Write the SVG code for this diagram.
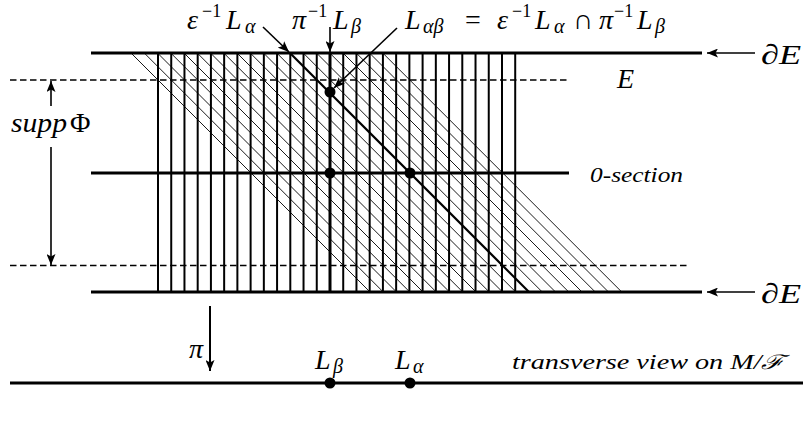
<svg xmlns="http://www.w3.org/2000/svg" width="803" height="421" viewBox="0 0 803 421">
<style>
  .m { font-size: 28px; font-style: italic; }
  .s { font-size: 18px; font-style: normal; }
  .si { font-size: 20px; font-style: italic; }
  .up { font-style: normal; }
  .solid { stroke: #000; stroke-width: 3; fill: none; }
  .vert { stroke: #000; stroke-width: 2; }
  .diag { stroke: #000; stroke-width: 0.9; }
  .dash { stroke: #000; stroke-width: 1.5; stroke-dasharray: 6.5 3.5; fill: none; }
  .arr { stroke: #000; stroke-width: 1.6; fill: none; marker-end: url(#ah); }
  .dot { fill: #000; }
  .lbl { font-size: 20px; font-style: italic; }
</style>
<defs>
  <marker id="ah" markerUnits="userSpaceOnUse" markerWidth="12" markerHeight="9" refX="11" refY="4.5" orient="auto">
    <path d="M0,0 L11,4.5 L0,9 L2.5,4.5 z" fill="#000"/>
  </marker>
</defs>
<rect width="803" height="421" fill="#fff"/>

<g id="hatch-diagonals">
  <line class="diag" x1="131" y1="53" x2="370" y2="292"/>
  <line class="diag" x1="144.25" y1="53" x2="383.25" y2="292"/>
  <line class="diag" x1="157.5" y1="53" x2="396.5" y2="292"/>
  <line class="diag" x1="170.75" y1="53" x2="409.75" y2="292"/>
  <line class="diag" x1="184" y1="53" x2="423" y2="292"/>
  <line class="diag" x1="197.25" y1="53" x2="436.25" y2="292"/>
  <line class="diag" x1="210.5" y1="53" x2="449.5" y2="292"/>
  <line class="diag" x1="223.75" y1="53" x2="462.75" y2="292"/>
  <line class="diag" x1="237" y1="53" x2="476" y2="292"/>
  <line class="diag" x1="250.25" y1="53" x2="489.25" y2="292"/>
  <line class="diag" x1="263.5" y1="53" x2="502.5" y2="292"/>
  <line class="diag" x1="276.75" y1="53" x2="515.75" y2="292"/>
  <line class="diag" x1="303.25" y1="53" x2="542.25" y2="292"/>
  <line class="diag" x1="316.5" y1="53" x2="555.5" y2="292"/>
  <line class="diag" x1="329.75" y1="53" x2="568.75" y2="292"/>
  <line class="diag" x1="343" y1="53" x2="582" y2="292"/>
  <line class="diag" x1="356.25" y1="53" x2="595.25" y2="292"/>
  <line class="diag" x1="369.5" y1="53" x2="608.5" y2="292"/>
  <line class="diag" x1="382.75" y1="53" x2="621.75" y2="292"/>
</g>

<g id="hatch-verticals">
  <line class="vert" x1="158" y1="53" x2="158" y2="292"/>
  <line class="vert" x1="171.23" y1="53" x2="171.23" y2="292"/>
  <line class="vert" x1="184.46" y1="53" x2="184.46" y2="292"/>
  <line class="vert" x1="197.69" y1="53" x2="197.69" y2="292"/>
  <line class="vert" x1="210.92" y1="53" x2="210.92" y2="292"/>
  <line class="vert" x1="224.15" y1="53" x2="224.15" y2="292"/>
  <line class="vert" x1="237.38" y1="53" x2="237.38" y2="292"/>
  <line class="vert" x1="250.61" y1="53" x2="250.61" y2="292"/>
  <line class="vert" x1="263.84" y1="53" x2="263.84" y2="292"/>
  <line class="vert" x1="277.07" y1="53" x2="277.07" y2="292"/>
  <line class="vert" x1="290.3" y1="53" x2="290.3" y2="292"/>
  <line class="vert" x1="303.53" y1="53" x2="303.53" y2="292"/>
  <line class="vert" x1="316.76" y1="53" x2="316.76" y2="292"/>
  <line class="vert" x1="343.22" y1="53" x2="343.22" y2="292"/>
  <line class="vert" x1="356.45" y1="53" x2="356.45" y2="292"/>
  <line class="vert" x1="369.68" y1="53" x2="369.68" y2="292"/>
  <line class="vert" x1="382.91" y1="53" x2="382.91" y2="292"/>
  <line class="vert" x1="396.14" y1="53" x2="396.14" y2="292"/>
  <line class="vert" x1="409.37" y1="53" x2="409.37" y2="292"/>
  <line class="vert" x1="422.6" y1="53" x2="422.6" y2="292"/>
  <line class="vert" x1="435.83" y1="53" x2="435.83" y2="292"/>
  <line class="vert" x1="449.06" y1="53" x2="449.06" y2="292"/>
  <line class="vert" x1="462.29" y1="53" x2="462.29" y2="292"/>
  <line class="vert" x1="475.52" y1="53" x2="475.52" y2="292"/>
  <line class="vert" x1="488.75" y1="53" x2="488.75" y2="292"/>
  <line class="vert" x1="501.98" y1="53" x2="501.98" y2="292"/>
  <line class="vert" x1="515.21" y1="53" x2="515.21" y2="292"/>
</g>

<g id="fiber-pi-inv-Lbeta">
  <line x1="330" y1="53" x2="330" y2="292" stroke="#000" stroke-width="3"/>
</g>
<g id="leaf-eps-inv-Lalpha">
  <line x1="290" y1="53" x2="529" y2="292" stroke="#000" stroke-width="2.2"/>
</g>

<g id="support-bounds">
  <line class="dash" x1="10" y1="80" x2="567" y2="80"/>
  <line class="dash" x1="10" y1="265.5" x2="687" y2="265.5"/>
</g>

<g id="boundary-top">
  <line class="solid" x1="91" y1="53" x2="702" y2="53"/>
</g>
<g id="zero-section">
  <line class="solid" x1="91" y1="173" x2="569" y2="173"/>
  <text class="lbl" font-family="'Liberation Serif', 'Times New Roman', 'DejaVu Serif', serif" x="590" y="182" textLength="93" lengthAdjust="spacingAndGlyphs">0-section</text>
</g>
<g id="boundary-bottom">
  <line class="solid" x1="91" y1="292" x2="702" y2="292"/>
</g>

<g id="dots">
  <circle class="dot" cx="330" cy="92" r="5.5"/>
  <circle class="dot" cx="330" cy="173" r="5.5"/>
  <circle class="dot" cx="410" cy="173" r="5.5"/>
</g>

<g id="label-E">
  <text class="m" font-family="'Liberation Serif', 'Times New Roman', 'DejaVu Serif', serif" x="617" y="88">E</text>
</g>
<g id="label-dE-top">
  <text class="m" font-family="'Liberation Serif', 'Times New Roman', 'DejaVu Serif', serif" x="761" y="64" textLength="40" lengthAdjust="spacingAndGlyphs">∂E</text>
</g>
<g id="label-dE-bottom">
  <text class="m" font-family="'Liberation Serif', 'Times New Roman', 'DejaVu Serif', serif" x="761" y="303" textLength="40" lengthAdjust="spacingAndGlyphs">∂E</text>
</g>

<g id="label-eps">
  <text class="m" font-family="'Liberation Serif', 'Times New Roman', 'DejaVu Serif', serif" y="29"><tspan x="187">ε</tspan><tspan class="s" x="202" y="17">−1</tspan><tspan x="226" y="29">L</tspan><tspan class="si" x="245" y="33">α</tspan></text>
</g>
<g id="label-pi">
  <text class="m" font-family="'Liberation Serif', 'Times New Roman', 'DejaVu Serif', serif" y="29"><tspan x="292">π</tspan><tspan class="s" x="308" y="17">−1</tspan><tspan x="333" y="29">L</tspan><tspan class="si" x="351" y="33">β</tspan></text>
</g>
<g id="label-Lab">
  <text class="m" font-family="'Liberation Serif', 'Times New Roman', 'DejaVu Serif', serif" y="29"><tspan x="405">L</tspan><tspan class="si" x="423" y="33">αβ</tspan><tspan class="up" x="465" y="29">=</tspan><tspan x="497">ε</tspan><tspan class="s" x="512" y="17">−1</tspan><tspan x="535" y="29">L</tspan><tspan class="si" x="554" y="33">α</tspan><tspan class="up" x="573" y="29">∩</tspan><tspan x="599">π</tspan><tspan class="s" x="614" y="17">−1</tspan><tspan x="637" y="29">L</tspan><tspan class="si" x="655" y="33">β</tspan></text>
</g>

<g id="label-supp">
  <text class="m" font-family="'Liberation Serif', 'Times New Roman', 'DejaVu Serif', serif" x="11" y="132"><tspan textLength="56" lengthAdjust="spacingAndGlyphs">supp</tspan><tspan class="up" x="70">Φ</tspan></text>
</g>

<g id="base">
  <line class="solid" x1="10" y1="383" x2="803" y2="383"/>
  <circle class="dot" cx="330" cy="383" r="5.5"/>
  <circle class="dot" cx="410" cy="383" r="5.5"/>
</g>
<g id="label-Lb">
  <text class="m" font-family="'Liberation Serif', 'Times New Roman', 'DejaVu Serif', serif" y="369"><tspan x="315">L</tspan><tspan class="si" x="333" y="373">β</tspan></text>
</g>
<g id="label-La">
  <text class="m" font-family="'Liberation Serif', 'Times New Roman', 'DejaVu Serif', serif" y="369"><tspan x="395">L</tspan><tspan class="si" x="413" y="373">α</tspan></text>
</g>
<g id="label-transverse">
  <text class="lbl" font-family="'Liberation Serif', 'Times New Roman', 'DejaVu Serif', serif" x="512" y="369" textLength="272" lengthAdjust="spacingAndGlyphs">transverse view on M/ℱ</text>
</g>
<g id="label-pi-proj">
  <text class="m" font-family="'Liberation Serif', 'Times New Roman', 'DejaVu Serif', serif" x="189" y="358">π</text>
</g>

<g id="connectors">
  <line class="arr" x1="263" y1="27" x2="289" y2="52"/>
  <line class="arr" x1="330" y1="27" x2="330" y2="52"/>
  <line class="arr" x1="397" y1="28" x2="334" y2="88"/>
  <line class="arr" x1="755" y1="53" x2="707" y2="53"/>
  <line class="arr" x1="755" y1="292" x2="707" y2="292"/>
  <line class="arr" x1="51" y1="106" x2="51" y2="81"/>
  <line class="arr" x1="51" y1="147" x2="51" y2="265"/>
  <line class="arr" x1="210" y1="306" x2="210" y2="371" style="stroke-width:2"/>
</g>
</svg>
